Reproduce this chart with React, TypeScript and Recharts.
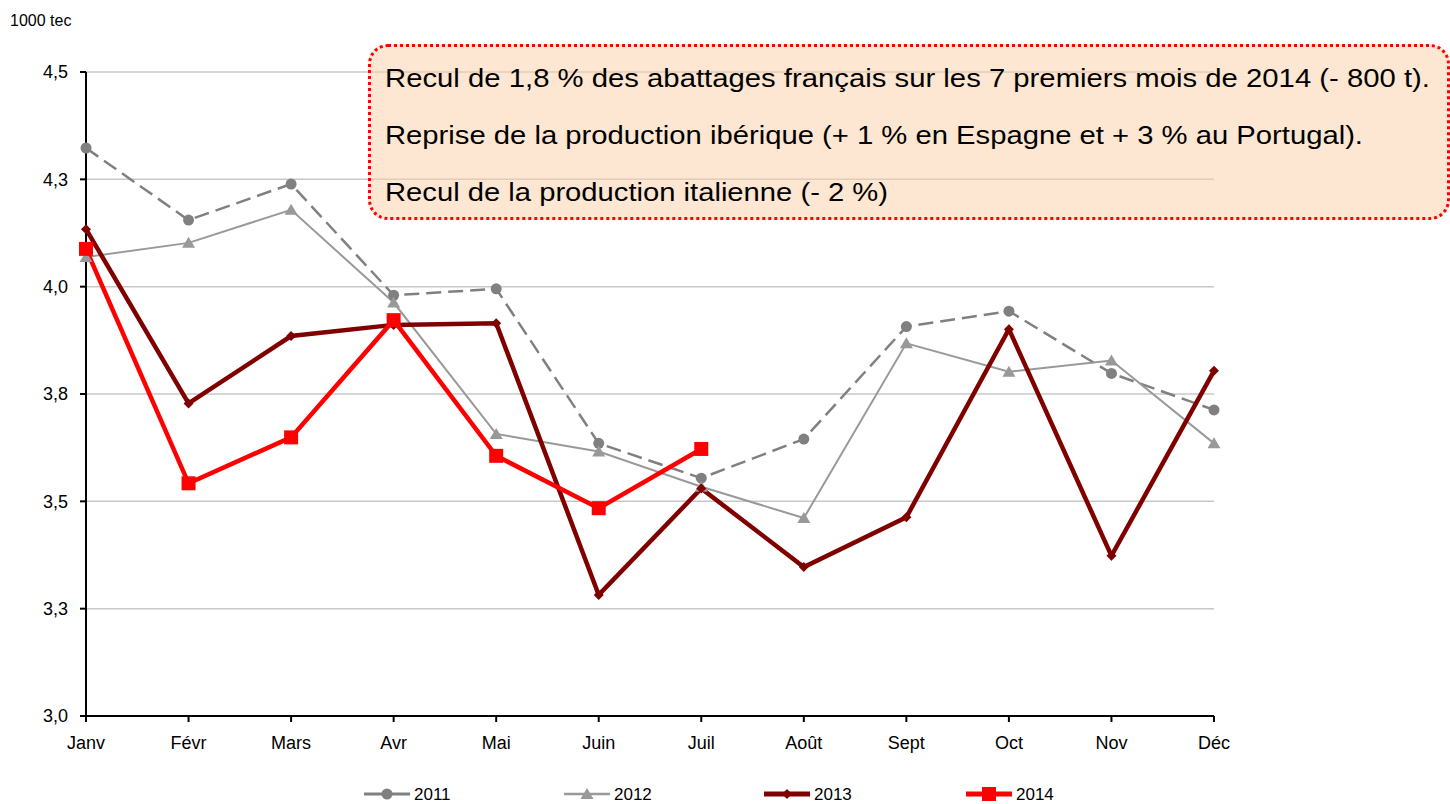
import React from "react";
import { LineChart, Line, XAxis, YAxis, CartesianGrid } from "recharts";

const months = ["Janv", "Févr", "Mars", "Avr", "Mai", "Juin", "Juil", "Août", "Sept", "Oct", "Nov", "Déc"];
const s2011 = [4.323, 4.155, 4.239, 3.98, 3.995, 3.635, 3.554, 3.645, 3.907, 3.943, 3.798, 3.713];
const s2012 = [4.069, 4.102, 4.179, 3.963, 3.657, 3.616, 3.534, 3.461, 3.868, 3.802, 3.828, 3.635];
const s2013 = [4.134, 3.728, 3.885, 3.911, 3.915, 3.282, 3.53, 3.347, 3.463, 3.901, 3.373, 3.804];
const s2014 = [4.088, 3.542, 3.649, 3.922, 3.606, 3.484, 3.622];

const yTicks = [3, 3.25, 3.5, 3.75, 4, 4.25, 4.5];
const yTickLabels = ["3,0", "3,3", "3,5", "3,8", "4,0", "4,3", "4,5"];

const notes = [
  "Recul de 1,8 % des abattages français sur les 7 premiers mois de 2014 (- 800 t).",
  "Reprise de la production ibérique (+ 1 % en Espagne et + 3 % au Portugal).",
  "Recul de la production italienne (- 2 %)",
];
const noteWidths = [1045, 978, 503];

const data = months.map((m, i) => ({
  month: m,
  y2011: s2011[i],
  y2012: s2012[i],
  y2013: s2013[i],
  y2014: i < s2014.length ? s2014[i] : null,
}));

const FONT = "'Liberation Sans', Arial, sans-serif";

type Shape = "circle" | "triangle" | "diamond" | "square";

function marker(shape: Shape, color: string, x: number, y: number, key?: string) {
  if (shape === "circle") return <circle key={key} cx={x} cy={y} r={5.5} fill={color} />;
  if (shape === "triangle")
    return <path key={key} d={`M${x},${y - 6}L${x + 6.5},${y + 5}L${x - 6.5},${y + 5}Z`} fill={color} />;
  if (shape === "diamond")
    return <path key={key} d={`M${x},${y - 5}L${x + 5},${y}L${x},${y + 5}L${x - 5},${y}Z`} fill={color} />;
  return <rect key={key} x={x - 7} y={y - 7} width={14} height={14} fill={color} />;
}

const dotFor = (shape: Shape, color: string) => (props: any) => {
  const { cx, cy, index, value } = props;
  if (value == null || cx == null || cy == null) return <g key={`e-${index}`} />;
  return marker(shape, color, cx, cy, `d-${index}`);
};

const series = [
  { key: "y2011", name: "2011", color: "#808080", width: 2.5, dash: "15 7", shape: "circle" as Shape },
  { key: "y2012", name: "2012", color: "#999999", width: 2, dash: undefined, shape: "triangle" as Shape },
  { key: "y2013", name: "2013", color: "#800000", width: 4.5, dash: undefined, shape: "diamond" as Shape },
  { key: "y2014", name: "2014", color: "#ff0000", width: 4.5, dash: undefined, shape: "square" as Shape },
];

const legendX = [364, 564, 764, 966];

export default function App() {
  return (
    <div style={{ position: "absolute", left: 0, top: 0, width: 1450, height: 804, background: "#fff", fontFamily: FONT }}>
      <div style={{ position: "absolute", left: 10, top: 12, fontSize: 16, color: "#000" }}>1000 tec</div>

      <LineChart width={1450} height={804} data={data} margin={{ top: 72, right: 236, left: 0, bottom: 0 }}>
        <CartesianGrid vertical={false} stroke="#c8c8c8" strokeWidth={1.5} />
        <XAxis
          dataKey="month"
          height={88}
          stroke="#000"
          strokeWidth={2}
          tickSize={6}
          tickMargin={14}
          tick={{ fill: "#000", fontSize: 18, fontFamily: FONT }}
          interval={0}
        />
        <YAxis
          width={86}
          domain={[3, 4.5]}
          ticks={yTicks}
          tickFormatter={(v: number) => yTickLabels[yTicks.indexOf(v)] ?? String(v)}
          stroke="#000"
          strokeWidth={2}
          tickSize={6}
          tickMargin={12}
          tick={{ fill: "#000", fontSize: 18, fontFamily: FONT }}
          allowDataOverflow
        />
        {series.map((s) => (
          <Line
            key={s.key}
            dataKey={s.key}
            name={s.name}
            stroke={s.color}
            strokeWidth={s.width}
            strokeDasharray={s.dash}
            dot={dotFor(s.shape, s.color)}
            activeDot={false}
            isAnimationActive={false}
            connectNulls={false}
            strokeLinejoin="miter"
          />
        ))}
      </LineChart>

      {/* annotation box */}
      <div
        style={{
          position: "absolute",
          left: 368,
          top: 44,
          width: 1082,
          height: 176,
          border: "3px dotted #ff0000",
          borderRadius: 20,
          background: "rgba(251, 208, 166, 0.5)",
          boxSizing: "border-box",
        }}
      />
      <svg style={{ position: "absolute", left: 0, top: 0 }} width={1450} height={804}>
        {notes.map((t, i) => (
          <text
            key={i}
            x={385}
            y={87 + i * 57}
            fontSize={25}
            fontFamily={FONT}
            fill="#000"
            textLength={noteWidths[i]}
            lengthAdjust="spacingAndGlyphs"
          >
            {t}
          </text>
        ))}
        {series.map((s, i) => {
          const x0 = legendX[i];
          const y = 794;
          return (
            <g key={s.key}>
              <line x1={x0} x2={x0 + 46} y1={y} y2={y} stroke={s.color} strokeWidth={s.width + 0.5} />
              {marker(s.shape, s.color, x0 + 23, y)}
              <text x={x0 + 50} y={y + 6} fontSize={17} fontFamily={FONT} fill="#000">
                {s.name}
              </text>
            </g>
          );
        })}
      </svg>
    </div>
  );
}
